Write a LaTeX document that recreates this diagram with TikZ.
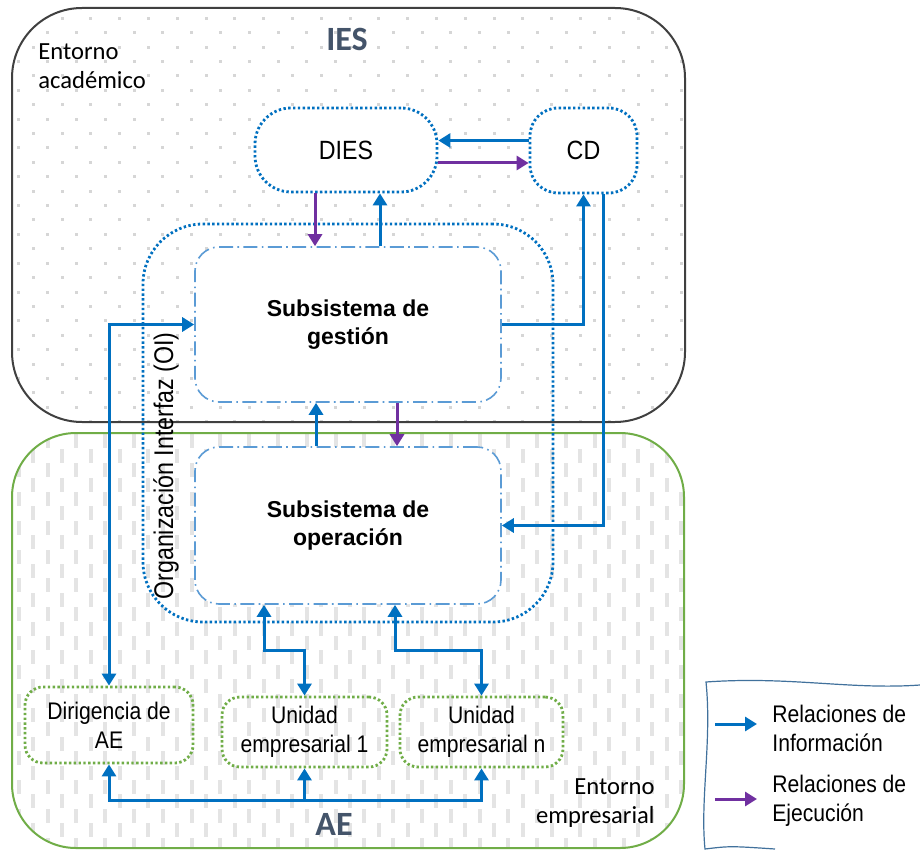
\documentclass[tikz,border=0pt]{standalone}
\usepackage{fontspec}
\setmainfont{Liberation Sans}
\newfontfamily\narrowfont[FakeStretch=0.88]{Liberation Sans}
\newfontfamily\calfont{Carlito}
\usepackage{xcolor}
\usetikzlibrary{arrows.meta,positioning,calc}

\definecolor{infoblue}{HTML}{0070C0}
\definecolor{execpurple}{HTML}{7030A0}
\definecolor{aegreen}{HTML}{70AD47}
\definecolor{subblue}{HTML}{5B9BD5}
\definecolor{titleslate}{HTML}{44546A}
\definecolor{iesgray}{HTML}{404040}
\definecolor{legendedge}{HTML}{41719C}
\definecolor{dotgray}{HTML}{D6D6D6}
\definecolor{bargray}{HTML}{E4E4E4}

\tikzset{
  tip/.tip={Triangle[length=6pt,width=7pt]},
  info/.style={draw=infoblue, line width=1.5pt, -tip},
  infoboth/.style={draw=infoblue, line width=1.5pt, tip-tip},
  exec/.style={draw=execpurple, line width=1.5pt, -tip},
  iesbox/.style={draw=infoblue, line width=1.4pt, dash pattern=on 1.2pt off 1.2pt,
    fill=white, inner sep=0pt, align=center, font=\narrowfont\fontsize{13.2}{15}\selectfont},
  subbox/.style={draw=subblue, line width=0.8pt, dash pattern=on 7pt off 2.2pt on 0.8pt off 2.2pt,
    fill=white, rounded corners=12pt, minimum width=153pt, inner sep=0pt, align=center,
    font=\bfseries\fontsize{11.5}{14}\selectfont},
  aebox/.style={draw=aegreen, line width=1.4pt, dash pattern=on 1.2pt off 1.2pt,
    rounded corners=9pt, inner sep=0pt, align=center, font=\narrowfont\fontsize{12}{14.5}\selectfont},
}

\begin{document}
\begin{tikzpicture}[x=0.5pt, y=-0.5pt]
    \useasboundingbox (0,0) rectangle (920,850);

    % Entorno academico
    \fill[white, rounded corners=35pt] (12,8) rectangle (685,422);
    \begin{scope}
        \clip[rounded corners=35pt] (12,8) rectangle (685,422);
        \foreach \x in {2.9,31.7,...,690}
        \foreach \y in {16.9,45.7,...,430}
            \fill[dotgray] (\x,\y) rectangle ++(3,3);
        \foreach \x in {17.3,46.1,...,690}
        \foreach \y in {2.5,31.3,...,430}
            \fill[dotgray] (\x,\y) rectangle ++(3,3);
    \end{scope}
    \draw[iesgray, line width=1pt, rounded corners=35pt] (12,8) rectangle (685,422);

    % Entorno empresarial
    \fill[white, rounded corners=32pt] (12,433) rectangle (684,848);
    \begin{scope}
        \clip[rounded corners=32pt] (12,433) rectangle (684,848);
        \foreach \x in {16.8,45.6,...,690}
        \foreach \y in {405.5,434.3,...,850}
            \fill[bargray] (\x,\y) rectangle ++(4,14);
        \foreach \x in {31.2,60,...,690}
        \foreach \y in {419.9,448.7,...,850}
            \fill[bargray] (\x,\y) rectangle ++(4,14);
    \end{scope}
    \draw[aegreen, line width=1pt, rounded corners=32pt] (12,433) rectangle (684,848);

    \node[anchor=north west, inner sep=0pt, align=left, font=\calfont\fontsize{12.3}{14.5}\selectfont]
        (acad) at (38,43) {Entorno\\académico};
    \node[anchor=north east, inner sep=0pt, align=right, font=\calfont\fontsize{12.3}{14.5}\selectfont]
        (empr) at (655,778) {Entorno\\empresarial};
    \node[text=titleslate, font=\calfont\bfseries\fontsize{17}{20}\selectfont] (ies) at (347,39) {IES};
    \node[text=titleslate, font=\calfont\bfseries\fontsize{17}{20}\selectfont] (ae) at (334,824) {AE};

    % Organizacion interfaz
    \node[draw=infoblue, line width=1.4pt, dash pattern=on 1.2pt off 1.2pt, rounded corners=30pt,
        minimum width=205pt, minimum height=199pt] (oi) at (348,423) {};
    \node[rotate=90, inner sep=0pt, font={\fontspec{Liberation Sans}[FakeStretch=0.86]\fontsize{13.5}{16}\selectfont}]
        (oilabel) at (166,466) {Organización Interfaz (OI)};

    % Nodes
    \node[iesbox, rounded corners=18pt, minimum width=91pt, minimum height=42pt] (dies) at (346,150) {DIES};
    \node[iesbox, rounded corners=14pt, minimum width=53.5pt, minimum height=42.5pt] (cd) at (583.5,150.5) {CD};
    \node[subbox, minimum height=77.5pt] (ges) at (348,324.5) {Subsistema de\\gestión};
    \node[subbox, minimum height=78.5pt] (ope) at (348,525.5) {Subsistema de\\operación};
    \node[aebox, minimum width=84pt, minimum height=38pt] (dir) at (109,725) {Dirigencia de\\AE};
    \node[aebox, minimum width=82.5pt, minimum height=35pt] (ue1) at (304.5,732) {Unidad\\empresarial 1};
    \node[aebox, minimum width=81.5pt, minimum height=35pt] (uen) at (481.5,732) {Unidad\\empresarial n};

    % Relations
    \draw[info] ([yshift=5pt]cd.west) -- ([yshift=5pt]cd.west -| dies.east);
    \draw[exec] ([yshift=-6.5pt]dies.east) -- ([yshift=-6.5pt]dies.east -| cd.west);
    \draw[exec] ([xshift=-15.5pt]dies.south) -- ([xshift=-15.5pt]dies.south |- ges.north);
    \draw[info] ([xshift=16pt]ges.north) -- ([xshift=16pt]ges.north |- dies.south);
    \draw[info] (ges.east) -| (cd.south);
    \draw[info] ([xshift=10pt]cd.south) |- (ope.east);
    \draw[info] ([xshift=-16pt]ope.north) -- ([xshift=-16pt]ope.north |- ges.south);
    \draw[exec] ([xshift=24.5pt]ges.south) -- ([xshift=24.5pt]ges.south |- ope.north);
    \draw[infoboth] (dir.north) |- (ges.west);
    \draw[infoboth] ([xshift=-42pt]ope.south) -- ++(0,46) -| (ue1.north);
    \draw[infoboth] ([xshift=23.5pt]ope.south) -- ++(0,46) -| (uen.north);
    \draw[infoboth] (dir.south) -- ++(0,36) -| (uen.south);
    \coordinate (bus) at (ue1.south |- 0,799);
    \draw[info] (bus) -- (ue1.south);

    % Legend
    \fill[white] (706,682) .. controls (790,676) and (850,690) .. (920,685) -- (920,850)
        -- (705,850) .. controls (700,800) and (712,740) .. (706,682);
    \draw[legendedge, line width=0.6pt] (920,685) .. controls (850,690) and (790,676) .. (706,682)
        .. controls (712,740) and (700,800) .. (705,849) .. controls (730,846) .. (775,849);
    \coordinate (leginfo) at (715,724);
    \coordinate (legexec) at (715,799);
    \draw[info] (leginfo) -- ++(42,0);
    \draw[exec] (legexec) -- ++(42,0);
    \node[anchor=west, inner sep=0pt, align=left, font=\narrowfont\fontsize{12}{14.5}\selectfont]
        (infotext) at (772,728) {Relaciones de\\Información};
    \node[anchor=west, inner sep=0pt, align=left, font=\narrowfont\fontsize{12}{14.5}\selectfont]
        (exectext) at (772,801) {Relaciones de\\Ejecución};
\end{tikzpicture}
\end{document}
